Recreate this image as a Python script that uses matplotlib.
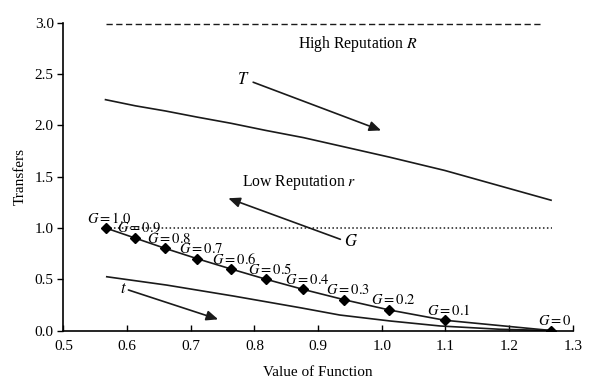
import matplotlib
matplotlib.use("Agg")
import matplotlib.pyplot as plt
import numpy as np

# ---- data ----
g_levels = [1.0, 0.9, 0.8, 0.7, 0.6, 0.5, 0.4, 0.3, 0.2, 0.1, 0.0]
g_labels = ["1.0", "0.9", "0.8", "0.7", "0.6", "0.5", "0.4", "0.3", "0.2", "0.1", "0"]
g_x = [0.566, 0.613, 0.660, 0.710, 0.763, 0.818, 0.877, 0.941, 1.012, 1.099, 1.266]

T_x = [0.566, 0.613, 0.660, 0.710, 0.763, 0.818, 0.877, 0.941, 1.012, 1.099, 1.266]
T_y = [2.25, 2.19, 2.14, 2.08, 2.02, 1.95, 1.88, 1.79, 1.69, 1.56, 1.27]

t_x = [0.568, 0.662, 0.767, 0.872, 0.934, 1.013, 1.092, 1.186, 1.266]
t_y = [0.524, 0.443, 0.336, 0.222, 0.151, 0.093, 0.044, 0.012, 0.0]

R_x = [0.566, 1.250]
R_y = [2.985, 2.985]
r_x = [0.566, 1.267]
r_y = [1.0, 1.0]

x_ticks = [0.5, 0.6, 0.7, 0.8, 0.9, 1.0, 1.1, 1.2, 1.3]
y_ticks = [0.0, 0.5, 1.0, 1.5, 2.0, 2.5, 3.0]

plt.rcParams['font.family'] = ['Liberation Serif', 'DejaVu Serif']
plt.rcParams['mathtext.fontset'] = 'stix'

fig = plt.figure(figsize=(5.89, 3.91), dpi=100)
ax = fig.add_axes([0.1078, 0.1547, 0.8645, 0.7872])

lc = '#1a1a1a'
ax.plot(R_x, R_y, color=lc, lw=1.0, ls=(0, (4.5, 2.5)))
ax.plot(r_x, r_y, color=lc, lw=1.1, ls=(0, (1, 1.6)))
ax.plot(T_x, T_y, color=lc, lw=1.2)
ax.plot(t_x, t_y, color=lc, lw=1.2)
ax.plot(g_x, g_levels, color=lc, lw=1.2, marker='D', markersize=5.5,
        markerfacecolor='black', markeredgecolor='black')

for gx, gy, lab in zip(g_x, g_levels, g_labels):
    ax.text(gx + 0.006, gy + 0.095, '$G=' + lab + '$', fontsize=10.5,
            ha='center', va='center', color='black')

fs = 11
ax.text(0.963, 2.79, 'High Reputation $R$', fontsize=11.3, ha='center', va='center')
ax.text(0.870, 1.447, 'Low Reputation $r$', fontsize=11.3, ha='center', va='center')

# arrows
ax.text(0.783, 2.44, '$T$', fontsize=12, ha='center', va='center')
ax.annotate('', xy=(0.999, 1.95), xytext=(0.798, 2.42),
            arrowprops=dict(arrowstyle='-|>,head_length=0.7,head_width=0.3',
                            color=lc, lw=1.2, shrinkA=0, shrinkB=0))
ax.text(0.951, 0.866, '$G$', fontsize=12, ha='center', va='center')
ax.annotate('', xy=(0.759, 1.289), xytext=(0.935, 0.889),
            arrowprops=dict(arrowstyle='-|>,head_length=0.7,head_width=0.3',
                            color=lc, lw=1.2, shrinkA=0, shrinkB=0))
ax.text(0.594, 0.40, '$t$', fontsize=12, ha='center', va='center')
ax.annotate('', xy=(0.743, 0.109), xytext=(0.602, 0.395),
            arrowprops=dict(arrowstyle='-|>,head_length=0.7,head_width=0.3',
                            color=lc, lw=1.2, shrinkA=0, shrinkB=0))

ax.set_xlim(0.5, 1.3)
ax.set_ylim(0.0, 3.0)
ax.set_xticks(x_ticks)
ax.set_yticks(y_ticks)
ax.set_xticklabels([f'{v:.1f}' for v in x_ticks], fontsize=fs)
ax.set_yticklabels([f'{v:.1f}' for v in y_ticks], fontsize=fs)
ax.tick_params(axis='x', direction='in', length=4, width=1, pad=7)
ax.tick_params(axis='y', direction='out', length=4, width=1, pad=3)
for s in ['top', 'right']:
    ax.spines[s].set_visible(False)
for s in ['left', 'bottom']:
    ax.spines[s].set_linewidth(1.2)
ax.set_xlabel('Value of Function', fontsize=fs, labelpad=9)
ax.set_ylabel('Transfers', fontsize=fs, labelpad=6)
ax.patch.set_alpha(0)

fig.savefig('out.png', dpi=100)
